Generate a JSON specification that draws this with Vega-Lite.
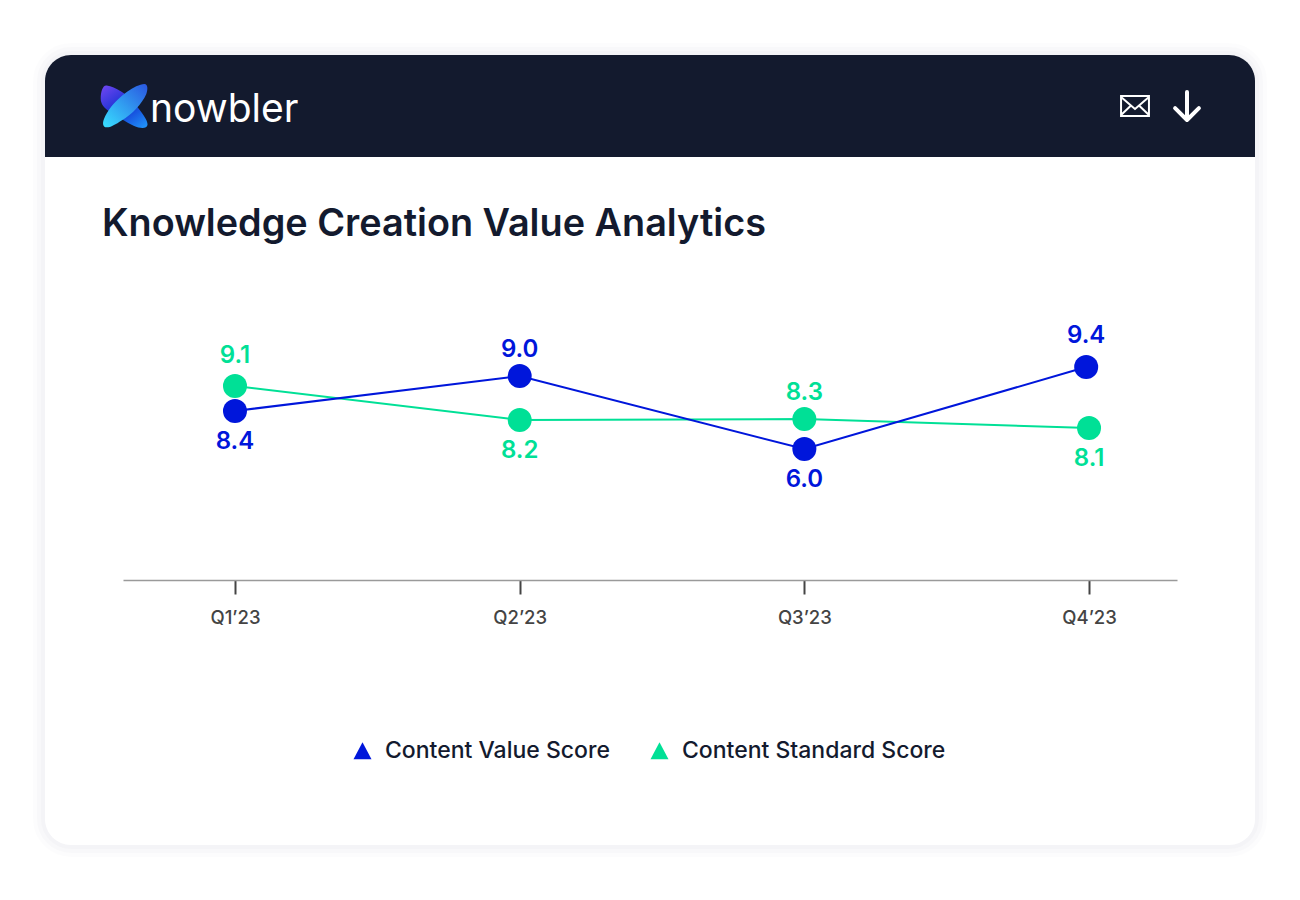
{
"$schema":"https://vega.github.io/schema/vega-lite/v6.json",
"width":1210,"height":790,
"autosize":{"type":"none"},
"padding":{"left":45,"top":55,"right":45,"bottom":55},
"background":"#ffffff",
"config":{"view":{"stroke":null}},
"title":{"text":"Knowledge Creation Value Analytics","anchor":"start","frame":"group","dx":57,"offset":-231,"baseline":"alphabetic","font":"Inter","fontSize":37.8,"fontWeight":600,"color":"#131A2E"},
"data":{"values":[
{"quarter":"Q1’23","t":0,"series":"Content Standard Score","score":"9.1","drawn":8.56,"side":"high"},
{"quarter":"Q2’23","t":1,"series":"Content Standard Score","score":"8.2","drawn":7.06,"side":"below"},
{"quarter":"Q3’23","t":2,"series":"Content Standard Score","score":"8.3","drawn":7.1,"side":"above"},
{"quarter":"Q4’23","t":3,"series":"Content Standard Score","score":"8.1","drawn":6.71,"side":"below"},
{"quarter":"Q1’23","t":0,"series":"Content Value Score","score":"8.4","drawn":7.46,"side":"below"},
{"quarter":"Q2’23","t":1,"series":"Content Value Score","score":"9.0","drawn":9.0,"side":"above"},
{"quarter":"Q3’23","t":2,"series":"Content Value Score","score":"6.0","drawn":5.78,"side":"below"},
{"quarter":"Q4’23","t":2.99,"series":"Content Value Score","score":"9.4","drawn":9.4,"side":"high"}
]},
"resolve":{"scale":{"x":"independent","y":"independent"},"legend":{"color":"independent"}},
"layer":[
{"data":{"values":[{"part":"shadow"}]},"mark":{"type":"rect","cornerRadius":26,"fillOpacity":0,"stroke":"#1a1a2e","strokeOpacity":0.012,"strokeWidth":24},"encoding":{}},
{"data":{"values":[{"part":"shadow"}]},"mark":{"type":"rect","cornerRadius":26,"fillOpacity":0,"stroke":"#1a1a2e","strokeOpacity":0.014,"strokeWidth":16},"encoding":{}},
{"data":{"values":[{"part":"shadow"}]},"mark":{"type":"rect","cornerRadius":26,"fillOpacity":0,"stroke":"#1a1a2e","strokeOpacity":0.016,"strokeWidth":8},"encoding":{}},
{"data":{"values":[{"part":"card"}]},"mark":{"type":"rect","cornerRadius":26,"fill":"#ffffff"},"encoding":{}},
{
"data":{"values":[{"brand":"nowbler"}]},
"encoding":{
"x":{"datum":79,"type":"quantitative","scale":{"domain":[0,1210],"range":[0,1210]},"axis":null},
"y":{"datum":51,"type":"quantitative","scale":{"domain":[0,790],"range":[0,790]},"axis":null}
},
"layer":[
{"mark":{"type":"rect","fill":"#131A2E","cornerRadiusTopLeft":26,"cornerRadiusTopRight":26},
 "encoding":{"x":null,"y":{"datum":0,"type":"quantitative"},"y2":{"datum":102}}},
{"mark":{"type":"point","filled":true,"opacity":1,"size":2304,"shape":"M-0.72,-0.85 C-0.35,-0.8 0.1,-0.5 0.4,-0.15 C0.75,0.25 1,0.6 0.98,0.78 C0.95,0.95 0.7,0.95 0.4,0.82 C0.1,0.7 -0.2,0.45 -0.5,0.3 C-0.85,0.1 -0.97,-0.1 -0.97,-0.3 C-0.97,-0.6 -0.88,-0.88 -0.72,-0.85Z",
 "color":{"gradient":"linear","x1":0.1,"y1":0,"x2":0.9,"y2":1,"stops":[{"offset":0,"color":"#6A45F0"},{"offset":0.5,"color":"#1230D0"},{"offset":1,"color":"#2090F8"}]}}},
{"mark":{"type":"point","filled":true,"opacity":1,"size":2304,"shape":"M0.85,-0.92 C1,-0.92 1,-0.7 0.93,-0.5 C0.75,-0.1 0.35,0.35 -0.1,0.6 C-0.4,0.8 -0.7,0.97 -0.83,0.85 C-0.95,0.7 -0.8,0.4 -0.55,0.05 C-0.2,-0.4 0.45,-0.9 0.85,-0.92Z",
 "color":{"gradient":"linear","x1":1,"y1":0,"x2":0,"y2":1,"stops":[{"offset":0,"color":"#2A55E0"},{"offset":1,"color":"#38E0FF"}]}}},
{"mark":{"type":"text","align":"left","baseline":"alphabetic","font":"Inter","fontWeight":400,"fontSize":39,"color":"#ffffff"},
 "encoding":{"text":{"field":"brand"},"x":{"datum":105,"type":"quantitative"},"y":{"datum":67,"type":"quantitative"}}},
{"mark":{"type":"point","filled":false,"opacity":1,"size":900,"strokeWidth":2,"color":"#ffffff","shape":"M-0.93,-0.67 H0.93 V0.67 H-0.93 Z M-0.93,-0.6 L0,0.2 L0.93,-0.6 M-0.93,0.6 L-0.25,-0.05 M0.93,0.6 L0.25,-0.05"},
 "encoding":{"x":{"datum":1090,"type":"quantitative"}}},
{"mark":{"type":"point","filled":false,"opacity":1,"size":784,"strokeWidth":4,"strokeCap":"round","strokeJoin":"round","color":"#ffffff","shape":"M0,-1 V1 M-0.85,0.15 L0,1 L0.85,0.15"},
 "encoding":{"x":{"datum":1142,"type":"quantitative"}}}
]
},
{"mark":{"type":"line","strokeWidth":2},
 "encoding":{
 "x":{"field":"t","type":"quantitative","scale":{"domain":[-0.3934,3.309],"range":[78,1132],"nice":false,"zero":false},
 "axis":{"zindex":1,"values":[0,1,2,3],"title":null,"grid":false,"offset":-265,"labelExpr":"['Q1’23','Q2’23','Q3’23','Q4’23'][datum.value]","domainColor":"#9a9a9a","domainWidth":1.5,"tickColor":"#444444","tickWidth":2,"tickSize":14,"labelFont":"Inter","labelFontSize":18.5,"labelFontWeight":500,"labelColor":"#444444","labelPadding":14}},
 "y":{"field":"drawn","type":"quantitative","scale":{"domain":[0,10],"range":[525,298.4],"nice":false,"zero":false},"axis":null},
 "color":{"field":"series","type":"nominal","legend":null,"scale":{"domain":["Content Value Score","Content Standard Score"],"range":["#0016DB","#00E096"]}}}},
{"mark":{"type":"point","filled":true,"opacity":1,"size":576,"shape":"circle"},
 "encoding":{
 "x":{"field":"t","type":"quantitative","scale":{"domain":[-0.3934,3.309],"range":[78,1132],"nice":false,"zero":false},"axis":null},
 "y":{"field":"drawn","type":"quantitative","scale":{"domain":[0,10],"range":[525,298.4],"nice":false,"zero":false},"axis":null},
 "color":{"field":"series","type":"nominal","legend":{"zindex":1,"title":null,"orient":"none","legendX":306,"legendY":684,"direction":"horizontal","columns":2,"symbolType":"M-1,0.95L0,-0.95L1,0.95Z","symbolSize":324,"symbolOpacity":1,"labelFont":"Inter","labelFontSize":23,"labelFontWeight":500,"labelColor":"#131A2E","labelOffset":11,"columnPadding":38,"labelLimit":400}}}},
{"transform":[{"filter":"datum.side==='above'"}],"mark":{"type":"text","dy":-26,"font":"Inter","fontSize":24,"fontWeight":600},
 "encoding":{"text":{"field":"score"},
 "x":{"field":"t","type":"quantitative","scale":{"domain":[-0.3934,3.309],"range":[78,1132],"nice":false,"zero":false},"axis":null},
 "y":{"field":"drawn","type":"quantitative","scale":{"domain":[0,10],"range":[525,298.4],"nice":false,"zero":false},"axis":null},
 "color":{"field":"series","type":"nominal","legend":null}}},
{"transform":[{"filter":"datum.side==='high'"}],"mark":{"type":"text","dy":-30.5,"font":"Inter","fontSize":24,"fontWeight":600},
 "encoding":{"text":{"field":"score"},
 "x":{"field":"t","type":"quantitative","scale":{"domain":[-0.3934,3.309],"range":[78,1132],"nice":false,"zero":false},"axis":null},
 "y":{"field":"drawn","type":"quantitative","scale":{"domain":[0,10],"range":[525,298.4],"nice":false,"zero":false},"axis":null},
 "color":{"field":"series","type":"nominal","legend":null}}},
{"transform":[{"filter":"datum.side==='below'"}],"mark":{"type":"text","dy":31,"font":"Inter","fontSize":24,"fontWeight":600},
 "encoding":{"text":{"field":"score"},
 "x":{"field":"t","type":"quantitative","scale":{"domain":[-0.3934,3.309],"range":[78,1132],"nice":false,"zero":false},"axis":null},
 "y":{"field":"drawn","type":"quantitative","scale":{"domain":[0,10],"range":[525,298.4],"nice":false,"zero":false},"axis":null},
 "color":{"field":"series","type":"nominal","legend":null}}}
]
}
